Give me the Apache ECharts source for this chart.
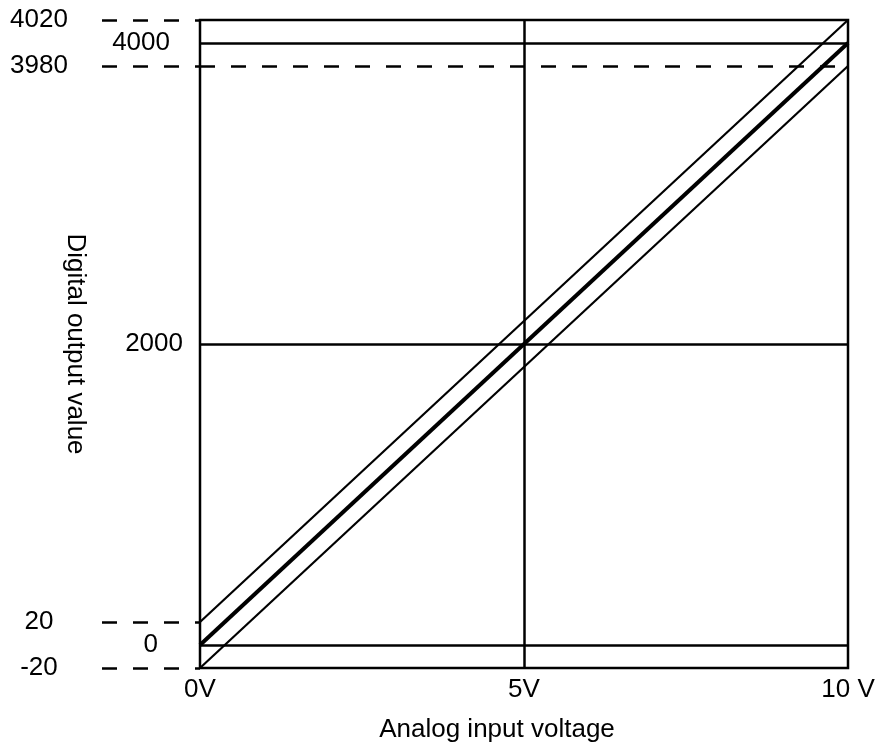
<!DOCTYPE html>
<html>
<head>
<meta charset="utf-8">
<script src="https://cdn.jsdelivr.net/npm/echarts@6/dist/echarts.min.js"></script>
<style>
  html, body { margin: 0; padding: 0; background: #fff; }
  #main { width: 880px; height: 753px; }
</style>
</head>
<body>
<div id="main"></div>
<script>
// A/D conversion characteristic, 0..10 V -> 0..4000 with +-20 tolerance
var voltage = [0, 10];
var idealCode = [0, 4000];
var upperCode = [20, 4020];
var lowerCode = [-20, 3980];
var xTickValues = [0, 5, 10];
var xTickLabels = ['0V', '5V', '10 V'];
var yTickValues = [4020, 4000, 3980, 2000, 20, 0, -20];
var guideValues = [4020, 3980, 20, -20];

// the figure stretches the +-20 band so it can be seen
var BAND_ZOOM = 7.65;
function toAxis(v) {
    var base = Math.round(v / 2000) * 2000;
    return base + (v - base) * BAND_ZOOM;
}
function pairs(ys) {
    return voltage.map(function (x, i) { return [x, toAxis(ys[i])]; });
}

var FONT = 'Liberation Sans';
var FS = 26;
var labelKey = { '4020': 'far', '3980': 'far', '20': 'far', '-20': 'far', '4000': 'k4', '2000': 'k2', '0': 'k0' };

var chartDom = document.getElementById('main');
var myChart = echarts.init(chartDom);
var option;
option = {
    animation: false,
    backgroundColor: '#fff',
    grid: {
        left: 200, right: 32, top: 20, bottom: 85,
        outerBoundsMode: 'none',
        containLabel: false,
        show: true, borderColor: '#000', borderWidth: 2.5
    },
    xAxis: {
        type: 'value',
        min: 0, max: 10, interval: 5,
        name: 'Analog input voltage',
        nameLocation: 'middle',
        nameGap: 49,
        nameMoveOverlap: false,
        nameTextStyle: { fontFamily: FONT, fontSize: FS, color: '#000', padding: [0, 54, 0, 0] },
        axisLine: { show: false },
        axisTick: { show: false },
        splitLine: { show: false },
        axisLabel: {
            margin: 9,
            fontFamily: FONT, fontSize: FS, color: '#000',
            formatter: function (v) { return xTickLabels[xTickValues.indexOf(v)]; }
        }
    },
    yAxis: {
        type: 'value',
        min: toAxis(-20), max: toAxis(4020),
        name: 'Digital output value',
        nameLocation: 'middle',
        nameRotate: -90,
        nameGap: 112,
        nameMoveOverlap: false,
        nameTextStyle: { fontFamily: FONT, fontSize: FS, color: '#000' },
        axisLine: { show: false },
        splitLine: { show: false },
        axisTick: {
            show: true,
            customValues: guideValues.map(toAxis),
            length: 100,
            lineStyle: { color: '#000', width: 2.5, type: [15, 16], dashOffset: 10 }
        },
        axisLabel: {
            margin: 17,
            customValues: yTickValues.map(toAxis),
            fontFamily: FONT, fontSize: FS, color: '#000',
            formatter: function (val) {
                var t = yTickValues.find(function (v) { return Math.abs(toAxis(v) - val) < 1e-6; });
                return '{' + labelKey[String(t)] + '|' + t + '}';
            },
            rich: {
                far: { fontFamily: FONT, fontSize: FS, color: '#000', width: 70, align: 'center', padding: [0, 109, 0, 0] },
                k4: { fontFamily: FONT, fontSize: FS, color: '#000', padding: [0, 13, 0, 0] },
                k0: { fontFamily: FONT, fontSize: FS, color: '#000', padding: [0, 25, 0, 0] },
                k2: { fontFamily: FONT, fontSize: FS, color: '#000' }
            }
        }
    },
    series: [
        {
            name: 'grid',
            type: 'line',
            data: [],
            silent: true,
            markLine: {
                silent: true,
                symbol: 'none',
                label: { show: false },
                lineStyle: { color: '#000', width: 2.5, type: 'solid' },
                data: [
                    { yAxis: toAxis(4000) },
                    { yAxis: toAxis(2000) },
                    { yAxis: toAxis(0) },
                    { xAxis: 5 },
                    { yAxis: toAxis(3980), lineStyle: { type: [15, 16], color: '#000', width: 2.5 } }
                ]
            }
        },
        {
            name: 'upper',
            type: 'line',
            data: pairs(upperCode),
            showSymbol: false,
            lineStyle: { color: '#000', width: 2.2 }
        },
        {
            name: 'lower',
            type: 'line',
            data: pairs(lowerCode),
            showSymbol: false,
            lineStyle: { color: '#000', width: 2.2 }
        },
        {
            name: 'ideal',
            type: 'line',
            data: pairs(idealCode),
            showSymbol: false,
            lineStyle: { color: '#000', width: 4 }
        }
    ]
};
option && myChart.setOption(option);
</script>
</body>
</html>
